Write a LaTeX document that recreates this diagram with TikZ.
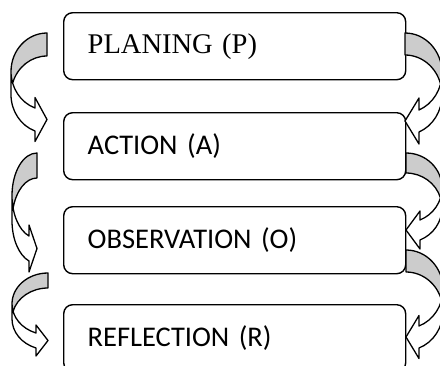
\documentclass[tikz,border=0pt]{standalone}
\usepackage{fontspec}
\setmainfont{Carlito}
\newfontfamily\timesfont{Liberation Serif}
\usepackage{tikz}
\definecolor{Shade}{RGB}{204,204,204}
\tikzstyle{Stage}=[draw,rounded corners=9pt,line width=1.4pt,anchor=north west,
  minimum height=67pt,text width=294pt,inner xsep=24pt,align=left,
  font=\fontsize{28.5}{34}\selectfont]
\tikzstyle{Band}=[line width=1.3pt,line join=round]
% curved block arrow: #1 side (1 left, -1 right), #2,#3 top corner,
% #4 width, #5 band, #6 head length, #7 head width, #8 upper notch
\newcommand{\CurvedArrow}[8]{%
  \begin{scope}[shift={(#2,#3)},xscale=#1]
    \pgfmathsetmacro\CArad{#8/(1+sqrt(1-(#6/#4)^2))}
    \pgfmathsetmacro\CAphi{acos(#6/#4)}
    \pgfmathsetmacro\CAbet{asin(#5/(2*\CArad))}
    \pgfmathsetmacro\CAdh{(#7-#5)/2}
    \pgfmathsetmacro\CAlow{#8+#5}
    \pgfmathsetmacro\CAtip{#8+#5/2}
    \fill[white](-#4,\CArad)
      arc[start angle=180,end angle={180-\CAphi},x radius=#4,y radius=\CArad]
      --(-#6,#8-\CAdh)--(0,\CAtip)--(-#6,\CAlow+\CAdh)--(-#6,\CAlow)
      arc[start angle={180-\CAphi},end angle=180,x radius=#4,y radius=\CArad]
      --cycle;
    \fill[Shade](0,0)
      arc[start angle=270,end angle={180-\CAbet},x radius=#4,y radius=\CArad]
      arc[start angle={180+\CAbet},end angle=270,x radius=#4,y radius=\CArad]
      --cycle;
    \draw[Band](-#4,\CArad)
      arc[start angle=180,end angle={180-\CAphi},x radius=#4,y radius=\CArad]
      --(-#6,#8-\CAdh)--(0,\CAtip)--(-#6,\CAlow+\CAdh)--(-#6,\CAlow)
      arc[start angle={180-\CAphi},end angle=180,x radius=#4,y radius=\CArad]
      --(-#4,\CArad)
      arc[start angle=180,end angle=270,x radius=#4,y radius=\CArad]
      --(0,#5)
      arc[start angle=270,end angle={180+\CAbet},x radius=#4,y radius=\CArad];
  \end{scope}}

\begin{document}
\begin{tikzpicture}[x=1pt,y=-1pt]
  \clip(0,0)rectangle(440,365);
  % stages of the cycle
  \node[Stage,font=\timesfont\fontsize{28.5}{34}\selectfont](P)at(63,12){PLANING (P)};
  \node[Stage](A)at(63,112){ACTION (A)};
  \node[Stage](O)at(63,206){OBSERVATION (O)};
  \node[Stage](R)at(63,304){REFLECTION (R)};
  % left arrows
  \CurvedArrow{1}{47}{33}{36}{23}{12}{44}{75}
  \CurvedArrow{1}{37}{153}{25}{25}{8}{47}{83}
  \CurvedArrow{1}{48}{273}{36}{15}{12}{31}{60}
  % right arrows
  \CurvedArrow{-1}{405}{33}{37}{22}{14}{46}{77}
  \CurvedArrow{-1}{406}{153}{36}{20}{14}{38}{67}
  \CurvedArrow{-1}{406}{250}{37}{22}{13}{43}{76}
\end{tikzpicture}
\end{document}
